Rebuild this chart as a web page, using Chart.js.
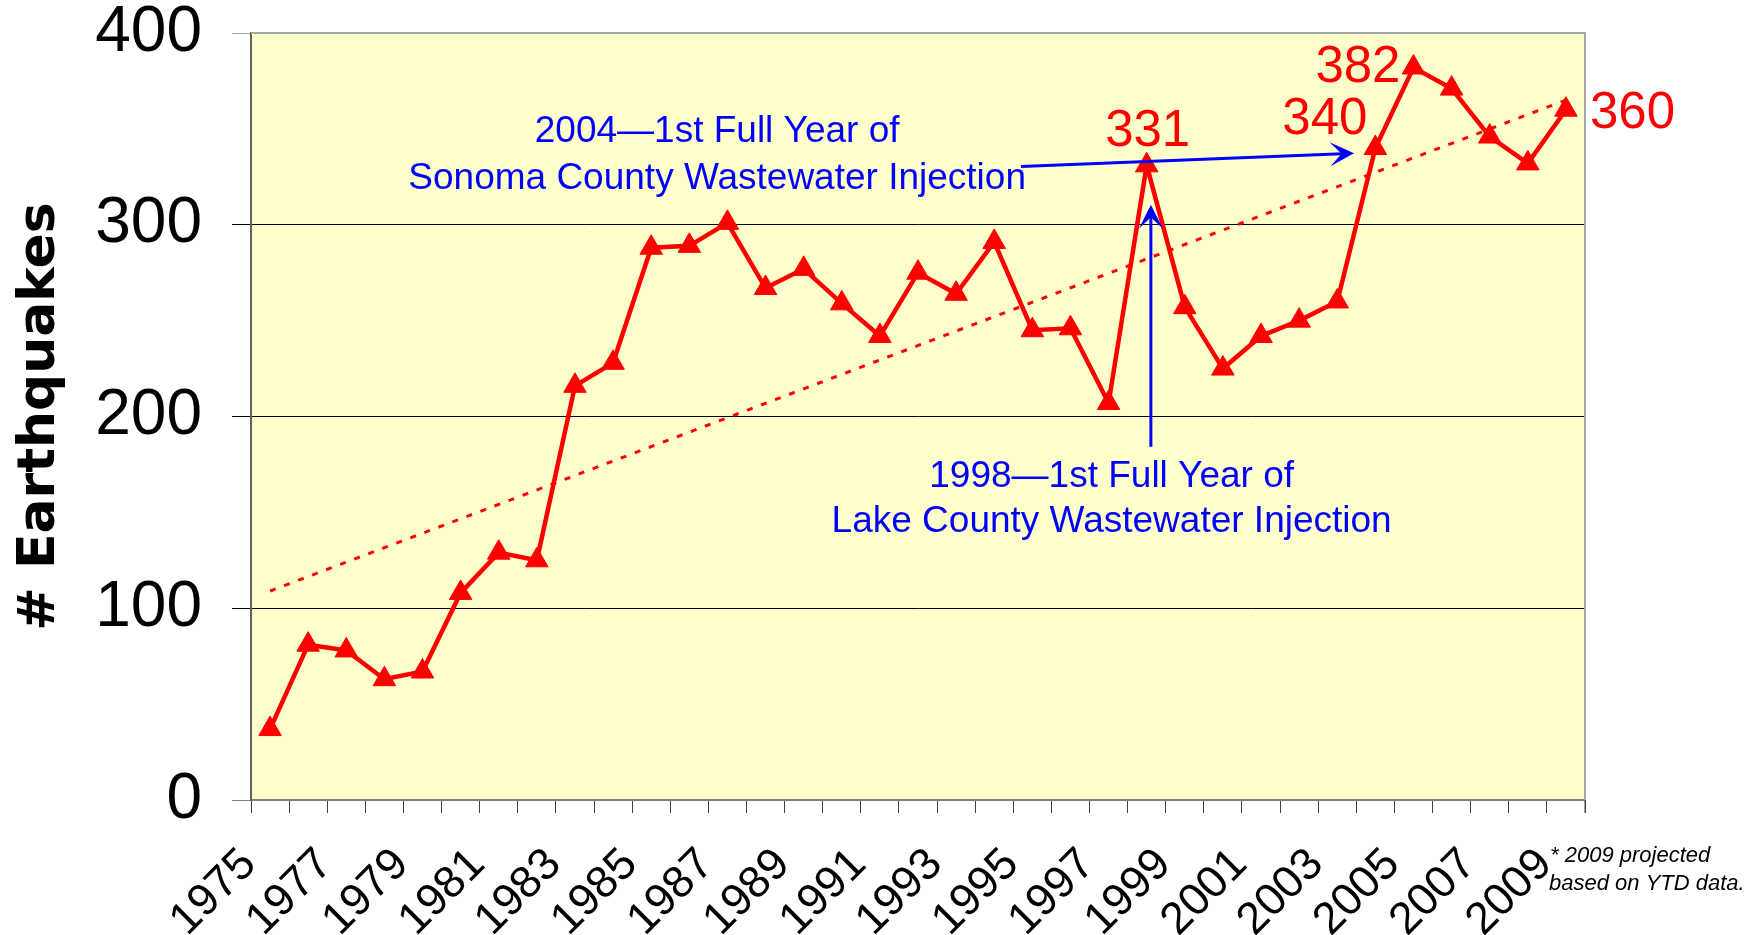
<!DOCTYPE html>
<html lang="en">
<head>
<meta charset="UTF-8" />
<title>Earthquakes per Year</title>
<script src="https://cdn.jsdelivr.net/npm/chart.js"></script>
<style>
  html, body { margin: 0; padding: 0; background: #fff; }
  canvas { display: block; }
</style>
</head>
<body>
<canvas id="chartCanvas" width="1754" height="935"></canvas>
<script>
  // yearly earthquake counts
  const years = ['1975','1976','1977','1978','1979','1980','1981','1982','1983','1984',
                 '1985','1986','1987','1988','1989','1990','1991','1992','1993','1994',
                 '1995','1996','1997','1998','1999','2000','2001','2002','2003','2004',
                 '2005','2006','2007','2008','2009'];
  const quakes = [37, 81, 78, 63, 67, 108, 129, 125, 216, 228,
                  288, 289, 301, 267, 277, 259, 242, 275, 264, 291,
                  245, 246, 207, 331, 257, 225, 242, 250, 260, 340,
                  382, 371, 346, 332, 360];
  // dotted trend line, only its two ends
  const trendStart = 109;
  const trendEnd = 365;
  const shownYears = ['1975','1977','1979','1981','1983','1985','1987','1989','1991','1993',
                      '1995','1997','1999','2001','2003','2005','2007','2009'];
  const yTicks = [0, 100, 200, 300, 400];
  const labeledYears = ['1998', '2004', '2005', '2009'];

  const trend = years.map((y, i) => i === 0 ? trendStart : (i === years.length - 1 ? trendEnd : null));

  const FONT = '"Liberation Sans", Arial, Helvetica, sans-serif';
  const BLUE = '#0000FF';
  const RED = '#FF0000';

  // blue callouts, placed in (category index, value) space
  const notes = [
    { lines: ['2004\u20141st Full Year of', 'Sonoma County Wastewater Injection'], x: 11.73, y: [348.5, 324.2] },
    { lines: ['1998\u20141st Full Year of', 'Lake County Wastewater Injection'], x: 22.08, y: [168.3, 145.2] }
  ];
  const arrows = [
    { from: [19.7, 330.4], to: [28.44, 337.3] },
    { from: [23.11, 184.2], to: [23.11, 310.4] }
  ];

  function drawArrow(ctx, x1, y1, x2, y2) {
    const ang = Math.atan2(y2 - y1, x2 - x1);
    ctx.save();
    ctx.strokeStyle = BLUE;
    ctx.fillStyle = BLUE;
    ctx.lineWidth = 3;
    ctx.beginPath();
    ctx.moveTo(x1, y1);
    ctx.lineTo(x2 - Math.cos(ang) * 12, y2 - Math.sin(ang) * 12);
    ctx.stroke();
    ctx.translate(x2, y2);
    ctx.rotate(ang);
    ctx.beginPath();
    ctx.moveTo(0, 0);
    ctx.lineTo(-24, -12);
    ctx.lineTo(-12.5, 0);
    ctx.lineTo(-24, 12);
    ctx.closePath();
    ctx.fill();
    ctx.restore();
  }

  const plotBackground = {
    id: 'plotBackground',
    beforeDraw(chart) {
      const { ctx, chartArea: a } = chart;
      ctx.save();
      ctx.fillStyle = '#FFFFCC';
      ctx.fillRect(a.left, a.top, a.right - a.left, a.bottom - a.top);
      ctx.restore();
    },
    beforeDatasetsDraw(chart) {
      const { ctx, chartArea: a } = chart;
      ctx.save();
      ctx.strokeStyle = '#A6A6A6';
      ctx.lineWidth = 2;
      ctx.beginPath();
      ctx.moveTo(a.left, a.top);
      ctx.lineTo(a.right, a.top);
      ctx.lineTo(a.right, a.bottom);
      ctx.stroke();
      // closing tick mark at the right end of the x axis
      ctx.strokeStyle = '#404040';
      ctx.lineWidth = 1;
      ctx.beginPath();
      ctx.moveTo(a.right, a.bottom);
      ctx.lineTo(a.right, a.bottom + 13);
      ctx.stroke();
      ctx.restore();
    }
  };

  // rotated year labels, every other year
  const yearLabels = {
    id: 'yearLabels',
    afterDraw(chart) {
      const { ctx } = chart;
      const xs = chart.scales.x;
      ctx.save();
      ctx.fillStyle = '#000';
      ctx.font = '45px ' + FONT;
      ctx.textAlign = 'right';
      ctx.textBaseline = 'alphabetic';
      shownYears.forEach(yr => {
        const px = xs.getPixelForValue(years.indexOf(yr));
        ctx.save();
        ctx.translate(px - 12, xs.top + 66);
        ctx.rotate(-Math.PI / 4);
        ctx.fillText(yr, 0, 0);
        ctx.restore();
      });
      ctx.restore();
    }
  };

  const callouts = {
    id: 'callouts',
    afterDatasetsDraw(chart) {
      const { ctx } = chart;
      const xs = chart.scales.x, ys = chart.scales.y;
      ctx.save();
      ctx.textBaseline = 'middle';

      // value labels next to selected points
      ctx.fillStyle = RED;
      ctx.font = '51px ' + FONT;
      labeledYears.forEach(yr => {
        const i = years.indexOf(yr);
        const px = xs.getPixelForValue(i), py = ys.getPixelForValue(quakes[i]);
        const txt = String(quakes[i]);
        if (yr === '1998') { ctx.textAlign = 'center'; ctx.fillText(txt, px + 1, py - 33); }
        if (yr === '2004') { ctx.textAlign = 'right'; ctx.fillText(txt, px - 8, py - 28); }
        if (yr === '2005') { ctx.textAlign = 'right'; ctx.fillText(txt, px - 13, py); }
        if (yr === '2009') { ctx.textAlign = 'left'; ctx.fillText(txt, px + 24, py + 4); }
      });

      // blue notes and arrows
      ctx.fillStyle = BLUE;
      ctx.textAlign = 'center';
      ctx.font = '37px ' + FONT;
      notes.forEach(n => {
        n.lines.forEach((line, k) => {
          ctx.fillText(line, xs.getPixelForValue(n.x), ys.getPixelForValue(n.y[k]));
        });
      });
      arrows.forEach(a => {
        drawArrow(ctx, xs.getPixelForValue(a.from[0]), ys.getPixelForValue(a.from[1]),
                       xs.getPixelForValue(a.to[0]), ys.getPixelForValue(a.to[1]));
      });

      // footnote
      const area = chart.chartArea;
      ctx.fillStyle = '#000';
      ctx.textAlign = 'left';
      ctx.textBaseline = 'alphabetic';
      ctx.font = 'italic 22px ' + FONT;
      ctx.fillText('* 2009 projected', area.right - 35, area.bottom + 62);
      ctx.fillText('based on YTD data.', area.right - 36, area.bottom + 90);
      ctx.restore();
    }
  };

  new Chart(document.getElementById('chartCanvas').getContext('2d'), {
    type: 'line',
    data: {
      labels: years,
      datasets: [
        {
          label: 'Earthquakes',
          data: quakes,
          borderColor: RED,
          backgroundColor: RED,
          borderWidth: 4.5,
          pointStyle: 'triangle',
          pointRadius: 13,
          pointBorderWidth: 1,
          tension: 0,
          order: 1
        },
        {
          label: 'Trend',
          data: trend,
          spanGaps: true,
          borderColor: RED,
          borderWidth: 3,
          borderDash: [6, 9],
          pointRadius: 0,
          order: 2
        }
      ]
    },
    options: {
      responsive: false,
      animation: false,
      layout: { padding: { left: 0, right: 169, top: 33, bottom: 0 } },
      plugins: {
        legend: { display: false },
        tooltip: { enabled: false }
      },
      scales: {
        x: {
          offset: true,
          grid: { offset: true, drawOnChartArea: false, drawTicks: true, tickLength: 13, color: '#404040' },
          border: { color: '#808080', width: 2 },
          ticks: { display: false, autoSkip: false },
          afterFit(scale) {
            scale.height = 135;
            scale.paddingLeft = 0;
            scale.paddingRight = 0;
          }
        },
        y: {
          min: yTicks[0],
          max: yTicks[yTicks.length - 1],
          afterBuildTicks(scale) { scale.ticks = yTicks.map(v => ({ value: v })); },
          afterFit(scale) {
            scale.width = 251;
            scale.paddingTop = 0;
            scale.paddingBottom = 0;
          },
          grid: {
            tickLength: 19,
            color: ctx => ctx.tick && ctx.tick.value === 400 ? '#A6A6A6' : (ctx.tick && ctx.tick.value === 0 ? '#808080' : '#000'),
            lineWidth: 1
          },
          border: { color: '#606060', width: 2 },
          ticks: {
            padding: 30,
            color: '#000',
            font: { family: FONT, size: 64 }
          },
          title: {
            display: true,
            text: '# Earthquakes',
            color: '#000',
            font: { family: '"DejaVu Sans", ' + FONT, size: 52, weight: 'bold' },
            padding: { top: 9, bottom: 0 }
          }
        }
      }
    },
    plugins: [plotBackground, callouts, yearLabels]
  });
</script>
</body>
</html>
